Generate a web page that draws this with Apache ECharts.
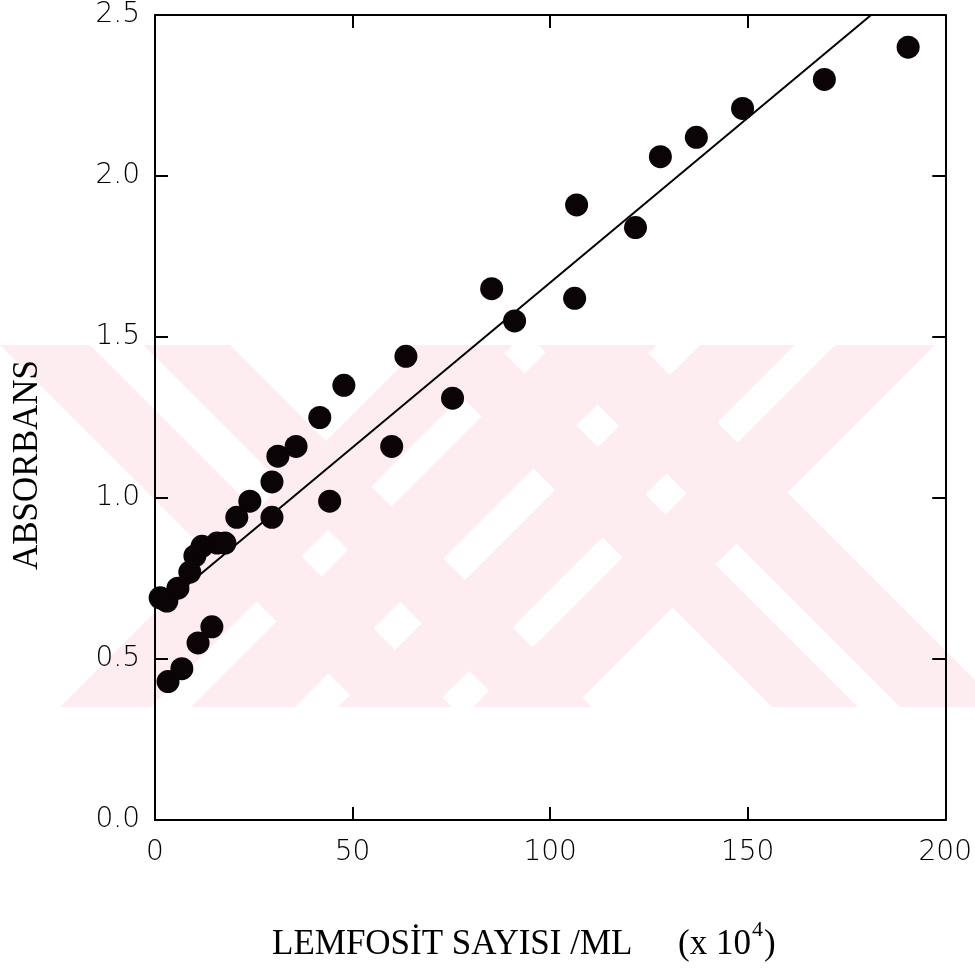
<!DOCTYPE html>
<html>
<head>
<meta charset="utf-8">
<script src="https://cdn.jsdelivr.net/npm/echarts@6/dist/echarts.min.js"></script>
<style>
  html, body { margin: 0; padding: 0; background: #ffffff; }
  #chart { width: 975px; height: 969px; }
</style>
</head>
<body>
<div id="chart"></div>
<script>
// Lymphocyte count per mL (x 10^4) and measured absorbance
const lymphocyteCount = [1.3, 3.0, 3.3, 5.8, 6.8, 8.8, 10.1, 10.9, 11.9, 14.4, 15.7, 17.7, 20.7, 24.0,
  29.6, 29.6, 31.1, 35.7, 41.7, 44.2, 47.8, 59.9, 63.5, 75.3, 85.2, 91.0, 106.2, 106.7, 121.6,
  127.9, 137.0, 148.7, 169.4, 190.6];
const absorbance = [0.69, 0.68, 0.43, 0.72, 0.47, 0.77, 0.82, 0.55, 0.85, 0.60, 0.86, 0.86, 0.94, 0.99,
  1.05, 0.94, 1.13, 1.16, 1.25, 0.99, 1.35, 1.16, 1.44, 1.31, 1.65, 1.55, 1.62, 1.91, 1.84,
  2.06, 2.12, 2.21, 2.30, 2.40];

// Axis ranges
const xRange = [0, 200];
const xStep = 50;
const yRange = [0, 2.5];
const yStep = 0.5;

// Linear regression line: absorbance = intercept + slope * count
const fitIntercept = 0.646;
const fitSlope = 0.01023;
const fitStartX = 2;

const points = lymphocyteCount.map((x, i) => [x, absorbance[i]]);
const fitEndX = Math.min(xRange[1], (yRange[1] - fitIntercept) / fitSlope);
const fitLine = [fitStartX, fitEndX].map(x => [x, fitIntercept + fitSlope * x]);

// Faint diagonal-stripe stamp behind the plot (45 degree bands)
const stampTop = 345, stampBottom = 707, stampColor = '#fdedf0';
const risingBands = [[767, 858], [898, 1002], [1045, 1140], [1180, 1280]];   // x + y range
const fallingBands = [[-345, -255], [-202, -115], [65, 151], [193, 295]];    // x - y range

function bandShape(range, rising) {
  const [a, b] = range;
  const t = stampTop, btm = stampBottom;
  const pts = rising
    ? [[a - t, t], [b - t, t], [b - btm, btm], [a - btm, btm]]
    : [[a + t, t], [b + t, t], [b + btm, btm], [a + btm, btm]];
  return { type: 'polygon', shape: { points: pts }, style: { fill: stampColor }, silent: true, z: -10 };
}
const stamp = risingBands.map(r => bandShape(r, true)).concat(fallingBands.map(r => bandShape(r, false)));

// Axis title with a superscript exponent
const titleFont = 'Liberation Serif';
const titleSize = 35, supSize = 22;
const measure = (() => {
  const ctx = document.createElement('canvas').getContext('2d');
  return (txt, size) => { ctx.font = size + 'px "' + titleFont + '"'; return ctx.measureText(txt).width; };
})();
const xTitleMain = 'LEMFOSİT SAYISI /ML';
const xTitleUnit = '(x 10';
const xTitleExp = '4';
const xTitleClose = ')';
const xTitleLeft = 272, xTitleUnitLeft = 678, xTitleY = 945;
const expLeft = xTitleUnitLeft + measure(xTitleUnit, titleSize) + 1;
const closeLeft = expLeft + measure(xTitleExp, supSize) + 1;

function titleText(txt, x, y, size, extra) {
  return Object.assign({
    type: 'text', x: x, y: y, silent: true,
    style: { text: txt, fontFamily: titleFont, fontSize: size, fill: '#000', align: 'left', verticalAlign: 'middle' }
  }, extra || {});
}

const frameLine = { show: true, onZero: false, lineStyle: { color: '#000', width: 2 } };
const frameTick = { show: true, inside: true, length: 13, lineStyle: { color: '#000', width: 2 } };
const tickFont = { fontFamily: 'DejaVu Sans', fontSize: 28, fontWeight: 300, color: '#000' };

const chart = echarts.init(document.getElementById('chart'), null, { renderer: 'canvas' });

chart.setOption({
  backgroundColor: '#ffffff',
  animation: false,
  grid: { left: 155, right: 29, top: 15, bottom: 149, containLabel: false },
  xAxis: [
    {
      type: 'value', position: 'bottom', min: xRange[0], max: xRange[1], interval: xStep,
      axisLine: frameLine, axisTick: frameTick, splitLine: { show: false },
      axisLabel: Object.assign({ margin: 19 }, tickFont)
    },
    {
      type: 'value', position: 'top', min: xRange[0], max: xRange[1], interval: xStep,
      axisLine: frameLine, axisTick: frameTick, splitLine: { show: false },
      axisLabel: { show: false }
    }
  ],
  yAxis: [
    {
      type: 'value', position: 'left', min: yRange[0], max: yRange[1], interval: yStep,
      axisLine: frameLine, axisTick: frameTick, splitLine: { show: false },
      axisLabel: Object.assign({ margin: 15, formatter: v => v.toFixed(1) }, tickFont)
    },
    {
      type: 'value', position: 'right', min: yRange[0], max: yRange[1], interval: yStep,
      axisLine: frameLine, axisTick: frameTick, splitLine: { show: false },
      axisLabel: { show: false }
    }
  ],
  series: [
    {
      name: 'fit',
      type: 'line',
      xAxisIndex: 0, yAxisIndex: 0,
      data: fitLine,
      showSymbol: false,
      lineStyle: { color: '#000', width: 2 },
      z: 2,
      silent: true
    },
    {
      name: 'samples',
      type: 'scatter',
      xAxisIndex: 0, yAxisIndex: 0,
      data: points,
      symbol: 'circle',
      symbolSize: 23,
      itemStyle: { color: '#0a0406', opacity: 1 },
      clip: false,
      z: 3
    }
  ],
  graphic: stamp.concat([
    titleText(xTitleMain, xTitleLeft, xTitleY, titleSize),
    titleText(xTitleUnit, xTitleUnitLeft, xTitleY, titleSize),
    titleText(xTitleExp, expLeft, xTitleY - 15, supSize),
    titleText(xTitleClose, closeLeft, xTitleY, titleSize),
    {
      type: 'text',
      x: 28, y: 465,
      rotation: Math.PI / 2,
      silent: true,
      style: {
        text: 'ABSORBANS',
        fontFamily: titleFont,
        fontSize: titleSize,
        fill: '#000',
        align: 'center',
        verticalAlign: 'middle'
      }
    }
  ])
});
</script>
</body>
</html>
